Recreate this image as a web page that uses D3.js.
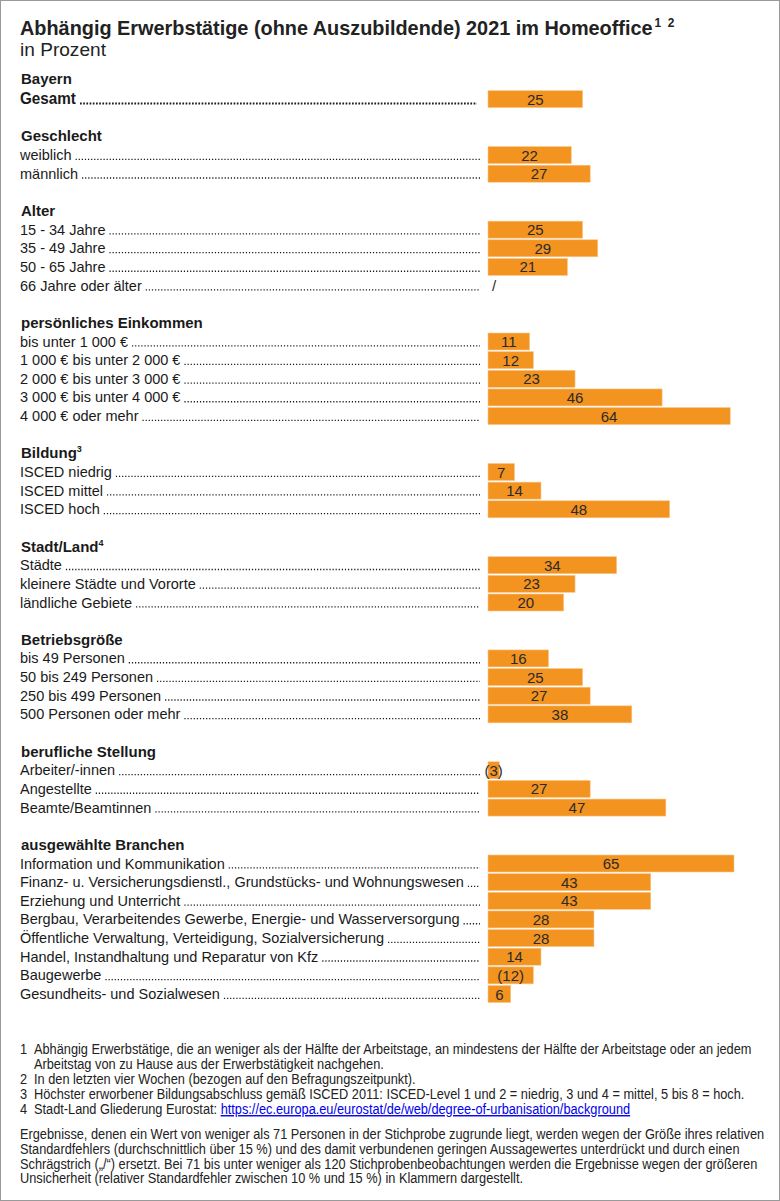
<!DOCTYPE html>
<html>
<head>
<meta charset="utf-8">
<script src="https://cdn.jsdelivr.net/npm/d3@7"></script>
<style>
  body { margin: 0; background: #fff; }
  svg { display: block; }
</style>
</head>
<body>
<div id="chart"></div>
<script>
// Daten
const groupTitles = ["Bayern", "Geschlecht", "Alter", "persönliches Einkommen", "Bildung", "Stadt/Land", "Betriebsgröße", "berufliche Stellung", "ausgewählte Branchen"];
const groupSup = ["", "", "", "", "3", "4", "", "", ""];

const rowLabels = [
  ["Gesamt"],
  ["weiblich", "männlich"],
  ["15 - 34 Jahre", "35 - 49 Jahre", "50 - 65 Jahre", "66 Jahre oder älter"],
  ["bis unter 1 000 €", "1 000 € bis unter 2 000 €", "2 000 € bis unter 3 000 €", "3 000 € bis unter 4 000 €", "4 000 € oder mehr"],
  ["ISCED niedrig", "ISCED mittel", "ISCED hoch"],
  ["Städte", "kleinere Städte und Vororte", "ländliche Gebiete"],
  ["bis 49 Personen", "50 bis 249 Personen", "250 bis 499 Personen", "500 Personen oder mehr"],
  ["Arbeiter/-innen", "Angestellte", "Beamte/Beamtinnen"],
  ["Information und Kommunikation", "Finanz- u. Versicherungsdienstl., Grundstücks- und Wohnungswesen", "Erziehung und Unterricht",
   "Bergbau, Verarbeitendes Gewerbe, Energie- und Wasserversorgung", "Öffentliche Verwaltung, Verteidigung, Sozialversicherung",
   "Handel, Instandhaltung und Reparatur von Kfz", "Baugewerbe", "Gesundheits- und Sozialwesen"]
];

const rowValues = [
  [25],
  [22, 27],
  [25, 29, 21, null],
  [11, 12, 23, 46, 64],
  [7, 14, 48],
  [34, 23, 20],
  [16, 25, 27, 38],
  [3, 27, 47],
  [65, 43, 43, 28, 28, 14, 12, 6]
];

// Werte in Klammern (unsicher)
const rowUncertain = [
  [false],
  [false, false],
  [false, false, false, false],
  [false, false, false, false, false],
  [false, false, false],
  [false, false, false],
  [false, false, false, false],
  [true, false, false],
  [false, false, false, false, false, false, true, false]
];

const footnotes = [
  ["1", "Abhängig Erwerbstätige, die an weniger als der Hälfte der Arbeitstage, an mindestens der Hälfte der Arbeitstage oder an jedem"],
  ["", "Arbeitstag von zu Hause aus der Erwerbstätigkeit nachgehen."],
  ["2", "In den letzten vier Wochen (bezogen auf den Befragungszeitpunkt)."],
  ["3", "Höchster erworbener Bildungsabschluss gemäß ISCED 2011: ISCED-Level 1 und 2 = niedrig, 3 und 4 = mittel, 5 bis 8 = hoch."],
  ["4", "Stadt-Land Gliederung Eurostat: "]
];
const footnoteLink = "https://ec.europa.eu/eurostat/de/web/degree-of-urbanisation/background";

const noteLines = [
  "Ergebnisse, denen ein Wert von weniger als 71 Personen in der Stichprobe zugrunde liegt, werden wegen der Größe ihres relativen",
  "Standardfehlers (durchschnittlich über 15 %) und des damit verbundenen geringen Aussagewertes unterdrückt und durch einen",
  "Schrägstrich („/“) ersetzt. Bei 71 bis unter weniger als 120 Stichprobenbeobachtungen werden die Ergebnisse wegen der größeren",
  "Unsicherheit (relativer Standardfehler zwischen 10 % und 15 %) in Klammern dargestellt."
];

// Layout
const width = 780;
const height = 1201;
const sans = "'Liberation Sans', Arial, Helvetica, sans-serif";
const orange = "#f39320";

// schmale Schrift: Liberation Sans horizontal gestaucht
function squeeze(sel, x, yBase, targetWidth) {
  const len = sel.node().getComputedTextLength();
  const s = targetWidth / len;
  sel.attr("x", 0).attr("y", 0)
    .attr("transform", `translate(${x},${yBase}) scale(${s},1)`);
  return s;
}

// Zeilen aufbauen
const rows = [];
let slot = 0;
groupTitles.forEach((t, g) => {
  rows.push({ type: "header", label: t, sup: groupSup[g], slot: slot++ });
  rowLabels[g].forEach((l, i) => {
    rows.push({
      type: "item", label: l, value: rowValues[g][i], uncertain: rowUncertain[g][i],
      total: g === 0, slot: slot++
    });
  });
  if (g < groupTitles.length - 1) slot++;
});

const y = d3.scaleLinear().domain([0, slot - 1]).range([80.5, 994]);
const x = d3.scaleLinear().domain([0, 65]).range([488, 734]);
const barH = 17;

const svg = d3.select("#chart")
  .append("svg")
  .attr("width", width)
  .attr("height", height)
  .attr("viewBox", [0, 0, width, height]);

svg.append("rect")
  .attr("x", 0.5).attr("y", 0.5)
  .attr("width", width - 1).attr("height", height - 1)
  .attr("fill", "#fff")
  .attr("stroke", "#9a9a9a");

// Titel
const title = svg.append("text")
  .attr("font-family", sans)
  .attr("font-weight", "bold")
  .attr("font-size", 20)
  .attr("fill", "#222")
  .text("Abhängig Erwerbstätige (ohne Auszubildende) 2021 im Homeoffice");
squeeze(title, 20, 35, 633);
title.append("tspan").attr("font-size", 12).attr("dy", -8).attr("dx", 2).text("1\u00A0\u00A02");

const sub = svg.append("text")
  .attr("font-family", sans)
  .attr("font-size", 18)
  .attr("fill", "#222")
  .text("in Prozent");
squeeze(sub, 20, 56, 86);

// Gruppenköpfe
const headers = svg.append("g").selectAll("text")
  .data(rows.filter(d => d.type === "header"))
  .join("text")
  .attr("x", 21)
  .attr("y", d => y(d.slot) + (d.slot === 0 ? 3 : 5))
  .attr("font-family", sans)
  .attr("font-weight", "bold")
  .attr("font-size", 15)
  .attr("fill", "#1a1a1a")
  .text(d => d.label);
headers.filter(d => d.sup)
  .append("tspan")
  .attr("font-size", 9)
  .attr("dy", -6)
  .text(d => d.sup);

const items = rows.filter(d => d.type === "item");

// Beschriftungen
const labels = svg.append("g").selectAll("text")
  .data(items)
  .join("text")
  .attr("x", 20)
  .attr("y", d => y(d.slot) + 5)
  .attr("font-family", sans)
  .attr("font-weight", d => d.total ? "bold" : "normal")
  .attr("font-size", d => d.total ? 16 : 14.5)
  .attr("fill", "#1a1a1a")
  .text(d => d.label);

// Punktlinien
labels.each(function (d) {
  let w = this.getComputedTextLength();
  if (d.total) {
    squeeze(d3.select(this), 20, y(d.slot) + 5, 56);
    w = 56;
  }
  const end = d.total ? 477 : 480;
  svg.append("line")
    .attr("x1", 20 + w + 4)
    .attr("x2", end)
    .attr("y1", y(d.slot) + 4.3)
    .attr("y2", y(d.slot) + 4.3)
    .attr("stroke", "#1a1a1a")
    .attr("stroke-width", d.total ? 2 : 1.3)
    .attr("stroke-dasharray", d.total ? "1.7,1.5" : "1.2,1.9");
});

// Balken
svg.append("g").selectAll("rect")
  .data(items.filter(d => d.value != null))
  .join("rect")
  .attr("x", x(0))
  .attr("y", d => y(d.slot) - barH / 2)
  .attr("width", d => x(d.value) - x(0))
  .attr("height", barH)
  .attr("fill", orange)
  .attr("stroke", "#f8c88e")
  .attr("stroke-width", 0.6);

// Werte
svg.append("g").selectAll("text")
  .data(items)
  .join("text")
  .attr("x", d => d.value == null ? x(0) + 6 : (x(0) + x(d.value)) / 2)
  .attr("y", d => y(d.slot) + 5.5)
  .attr("text-anchor", "middle")
  .attr("font-family", sans)
  .attr("font-size", 15)
  .attr("fill", "#2a2a2a")
  .text(d => d.value == null ? "/" : d.uncertain ? `(${d.value})` : d.value);

// Fußnoten
const fn = svg.append("g")
  .attr("font-family", sans)
  .attr("font-size", 14)
  .attr("fill", "#222");

// Stauchfaktor aus der ersten Zeile
const probe = fn.append("text").text(footnotes[0][1]);
const fs = 718 / probe.node().getComputedTextLength();
probe.remove();

footnotes.forEach((f, i) => {
  const yy = 1054 + i * 15;
  fn.append("text").attr("transform", `translate(20,${yy}) scale(${fs},1)`).text(f[0]);
  const t = fn.append("text").attr("transform", `translate(34,${yy}) scale(${fs},1)`).text(f[1]);
  if (i === footnotes.length - 1) {
    t.append("tspan")
      .attr("fill", "#0000ee")
      .attr("text-decoration", "underline")
      .text(footnoteLink);
  }
});

noteLines.forEach((l, i) => {
  fn.append("text")
    .attr("transform", `translate(20,${1139 + i * 14.8}) scale(${fs},1)`)
    .text(l);
});
</script>
</body>
</html>
